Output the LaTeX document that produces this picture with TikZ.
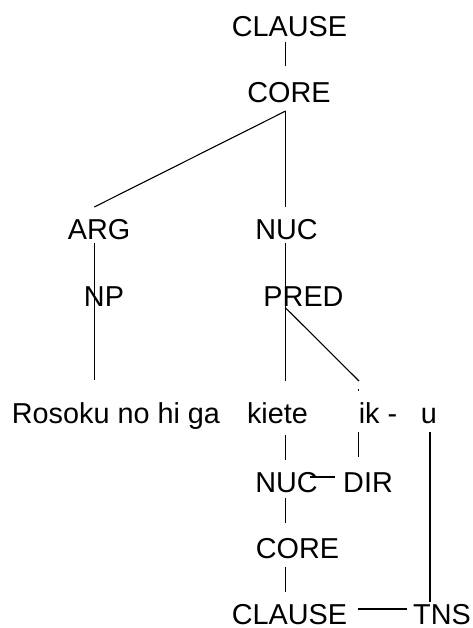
\documentclass[tikz,border=0pt]{standalone}
\usepackage{fontspec}
\setmainfont{Liberation Sans}
\begin{document}
\begin{tikzpicture}[x=1pt,y=-1pt,
  lbl/.style={anchor=base,inner sep=0pt,font=\fontsize{28.8}{34}\selectfont},
  edge/.style={line width=1.1pt}]
\useasboundingbox (0,0) rectangle (473,628);
% nodes
\node[lbl] (CLAUSE) at (289.5,37) {CLAUSE};
\node[lbl] (CORE) at (289,103) {CORE};
\node[lbl] (ARG) at (99,239) {ARG};
\node[lbl] (NUC) at (286.5,239) {NUC};
\node[lbl] (NP) at (104,306) {NP};
\node[lbl] (PRED) at (303.5,306) {PRED};
\node[lbl] (ROS) at (116,423) {Rosoku no hi ga};
\node[lbl] (KIETE) at (277.5,423) {kiete};
\node[lbl] (IK) at (378,423) {ik -};
\node[lbl] (U) at (429,423) {u};
\node[lbl] (NUCb) at (286.5,492) {NUC};
\node[lbl] (DIR) at (368,492) {DIR};
\node[lbl] (COREb) at (297.5,558) {CORE};
\node[lbl] (CLAUSEb) at (289.5,624.3) {CLAUSE};
\node[lbl] (TNS) at (442,624.3) {TNS};
% connector end points
\coordinate (clauseB) at (285.7,42);
\coordinate (coreT) at (285.7,66);
\coordinate (coreB) at (285.7,111);
\coordinate (argT) at (94.3,207);
\coordinate (nucT) at (285.7,207);
\coordinate (argB) at (94.3,243);
\coordinate (rosT) at (94.3,380);
\coordinate (nucB) at (285.7,243);
\coordinate (predB) at (285.7,308);
\coordinate (kieteT) at (285.7,381);
\coordinate (ikT) at (359,381);
\coordinate (ikDotA) at (358.5,389.3);
\coordinate (ikDotB) at (358.5,391);
\coordinate (kieteB) at (285.7,435);
\coordinate (nucbT) at (285.7,460);
\coordinate (ikB) at (358.3,432);
\coordinate (dirT) at (358.3,457);
\coordinate (uB) at (430,432);
\coordinate (tnsT) at (430,602);
\coordinate (nucbR) at (310,477);
\coordinate (dirL) at (334.5,477);
\coordinate (nucbB) at (285.7,498);
\coordinate (corebT) at (285.7,523);
\coordinate (corebB) at (285.7,567);
\coordinate (clausebT) at (285.7,592);
\coordinate (clausebR) at (357.5,609);
\coordinate (tnsL) at (407,609);
% connectors
\draw[edge] (clauseB) -- (coreT);
\draw[edge] (coreB) -- (argT);
\draw[edge] (coreB) -- (nucT);
\draw[edge] (argB) -- (rosT);
\draw[edge] (nucB) -- (predB);
\draw[edge] (predB) -- (kieteT);
\draw[edge] (predB) -- (ikT);
\draw[edge] (ikDotA) -- (ikDotB);
\draw[edge] (kieteB) -- (nucbT);
\draw[edge] (ikB) -- (dirT);
\draw[edge] (uB) -- (tnsT);
\draw[edge] (nucbR) -- (dirL);
\draw[edge] (nucbB) -- (corebT);
\draw[edge] (corebB) -- (clausebT);
\draw[edge] (clausebR) -- (tnsL);
\end{tikzpicture}
\end{document}
